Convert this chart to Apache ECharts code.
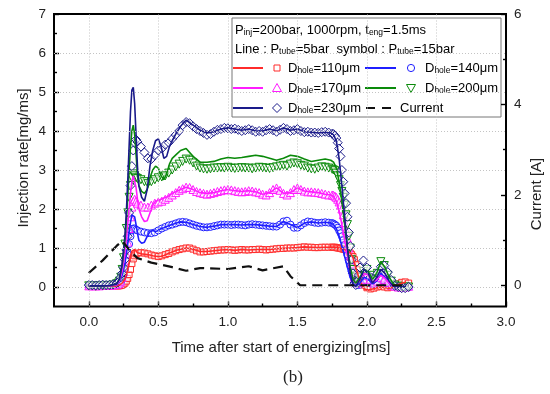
<!DOCTYPE html>
<html><head><meta charset="utf-8">
<script src="https://cdn.jsdelivr.net/npm/echarts@6/dist/echarts.min.js"></script>
<style>html,body{margin:0;padding:0;background:#fff}#c{width:550px;height:394px}</style>
</head><body><div id="c"></div><script>
// Time base of the P_tube=15bar symbol traces [ms]
const tS = [0,0.025,0.05,0.075,0.1,0.125,0.15,0.175,0.2,
  0.21,0.22,0.23,0.24,0.25,0.26,0.27,0.28,0.29,0.3,0.31,0.32,0.33,0.34,0.35,
  0.375,0.4,0.425,0.45,0.475,0.5,0.525,0.55,0.575,0.6,0.625,0.65,0.675,0.7,0.725,0.75,0.775,0.8,0.825,0.85,0.875,0.9,0.925,0.95,0.975,1.0,
  1.025,1.05,1.075,1.1,1.125,1.15,1.175,1.2,1.225,1.25,1.275,1.3,1.325,1.35,1.375,1.4,1.425,1.45,1.475,1.5,1.525,1.55,1.575,1.6,1.625,1.65,1.675,1.7,1.725,1.75,
  1.76,1.77,1.78,1.79,1.8,1.81,1.82,1.83,1.84,1.85,1.86,1.87,1.88,1.89,1.9,1.91,1.92,1.93,1.94,1.95,
  1.975,2.0,2.025,2.05,2.075,2.1,2.125,2.15,2.175,2.2,2.225,2.25,2.275,2.3];

// Injection rate [mg/ms], P_tube = 15bar (symbols)
const D110s = [0.02,0.02,0.02,0.02,0.02,0.02,0.03,0.03,0.03,
  0.03,0.03,0.04,0.05,0.07,0.1,0.15,0.22,0.32,0.45,0.6,0.72,0.8,0.85,0.87,
  0.88,0.87,0.85,0.82,0.8,0.78,0.8,0.83,0.86,0.9,
  0.93,0.96,0.98,1.0,1.0,0.97,0.93,0.9,0.9,0.91,
  0.92,0.93,0.94,0.95,0.95,0.96,0.95,0.94,0.95,0.96,
  0.95,0.95,0.96,0.96,0.97,0.96,0.95,0.96,0.97,0.98,
  0.99,0.99,1.0,1.0,1.0,1.01,1.02,1.03,1.02,1.02,
  1.01,1.01,1.02,1.02,1.02,1.02,
  1.02,1.02,1.01,1.0,1.0,0.99,0.98,0.97,0.96,0.95,0.93,0.9,0.87,0.83,0.78,0.7,0.58,0.45,0.3,0.18,
  0.05,-0.02,-0.05,-0.03,0.0,0.02,0.0,-0.02,0.0,0.05,0.08,0.12,0.13,0.1];
const D140s = [0.03,0.03,0.03,0.03,0.03,0.04,0.04,0.04,0.05,
  0.06,0.08,0.12,0.2,0.3,0.45,0.65,0.85,1.1,1.3,1.45,1.5,1.5,1.47,1.45,
  1.42,1.4,1.38,1.38,1.4,1.45,1.5,1.54,1.58,1.6,
  1.63,1.66,1.67,1.66,1.63,1.6,1.57,1.55,1.53,1.53,
  1.54,1.56,1.58,1.6,1.6,1.6,1.59,1.6,1.6,1.59,
  1.58,1.6,1.61,1.6,1.59,1.58,1.57,1.56,1.55,1.55,
  1.6,1.68,1.7,1.6,1.52,1.52,1.58,1.64,1.68,1.67,
  1.65,1.64,1.65,1.66,1.65,1.64,
  1.62,1.6,1.57,1.52,1.45,1.38,1.3,1.2,1.08,0.95,0.82,0.68,0.55,0.4,0.28,0.18,0.1,0.06,0.05,0.08,
  0.12,0.15,0.1,0.08,0.12,0.18,0.15,0.1,0.05,0.02,0.0,0.0,0.0,0.0];
const D170s = [0.03,0.03,0.03,0.03,0.04,0.04,0.04,0.05,0.07,
  0.08,0.1,0.15,0.25,0.4,0.6,0.85,1.15,1.5,1.8,2.05,2.2,2.25,2.2,2.15,
  2.1,2.05,2.05,2.1,2.15,2.18,2.2,2.25,2.3,2.36,
  2.42,2.48,2.52,2.56,2.55,2.5,2.45,2.42,2.4,2.38,
  2.4,2.42,2.45,2.47,2.49,2.5,2.49,2.47,2.45,2.44,
  2.45,2.47,2.46,2.44,2.42,2.38,2.36,2.42,2.5,2.54,
  2.48,2.4,2.36,2.42,2.5,2.54,2.5,2.46,2.44,2.44,
  2.43,2.42,2.4,2.38,2.36,2.36,
  2.35,2.33,2.3,2.25,2.18,2.1,2.0,1.85,1.65,1.45,1.25,1.0,0.8,0.6,0.4,0.25,0.15,0.1,0.12,0.15,
  0.2,0.3,0.2,0.1,0.15,0.25,0.2,0.12,0.05,0.02,0.0,0.0,0.0,0.02];
const D200s = [0.03,0.03,0.02,0.03,0.03,0.04,0.04,0.05,0.08,
  0.1,0.15,0.25,0.45,0.75,1.1,1.5,1.9,2.3,2.6,2.8,2.9,2.85,2.8,2.78,
  2.75,2.7,2.65,2.7,2.75,2.8,2.82,2.85,2.92,3.0,
  3.08,3.15,3.22,3.28,3.25,3.18,3.1,3.05,3.03,3.02,
  3.03,3.05,3.05,3.06,3.05,3.07,3.05,3.04,3.05,3.06,
  3.05,3.05,3.03,3.05,3.07,3.06,3.05,3.04,3.06,3.08,
  3.1,3.12,3.1,3.15,3.18,3.16,3.12,3.1,3.05,3.03,
  3.02,3.05,3.08,3.07,3.05,3.02,
  3.0,2.98,2.92,2.85,2.75,2.6,2.45,2.3,2.1,1.85,1.6,1.3,1.0,0.7,0.45,0.25,0.12,0.1,0.15,0.25,
  0.4,0.45,0.3,0.2,0.35,0.65,0.55,0.3,0.15,0.05,0.02,0.0,0.0,0.0];
const D230s = [0.05,0.05,0.04,0.05,0.06,0.05,0.06,0.07,0.1,
  0.12,0.15,0.25,0.35,0.5,0.7,0.95,1.3,1.9,2.6,3.1,3.5,3.7,3.78,3.72,
  3.6,3.45,3.3,3.28,3.38,3.5,3.55,3.65,3.7,3.8,
  3.9,4.0,4.15,4.23,4.2,4.12,4.05,4.0,3.95,3.9,
  3.92,3.98,4.03,4.05,4.08,4.07,4.05,4.06,4.03,4.0,
  4.02,4.05,4.02,3.98,4.0,3.98,4.02,4.05,4.02,3.98,
  4.03,4.08,4.05,4.0,4.02,4.05,4.0,3.97,3.98,3.96,
  3.96,3.95,3.97,3.98,3.96,3.93,
  3.92,3.88,3.82,3.7,3.55,3.35,3.0,2.7,2.4,2.15,1.8,1.4,1.05,0.7,0.35,0.1,0.05,0.15,0.3,0.5,
  0.68,0.5,0.25,0.2,0.35,0.52,0.55,0.38,0.18,0.03,0.0,-0.03,-0.03,0.0];

// Time base of the P_tube=5bar line traces [ms]
const tL = [0,0.05,0.1,0.15,0.2,0.22,0.24,0.26,
  0.27,0.28,0.29,0.3,0.31,0.32,0.33,0.34,0.35,0.36,
  0.38,0.4,0.42,0.44,0.46,0.48,0.5,0.52,0.54,0.56,0.58,0.6,
  0.63,0.66,0.7,
  0.75,0.8,0.85,0.9,0.95,1.0,1.05,1.1,1.15,1.2,1.25,1.3,1.35,1.4,1.45,1.5,1.55,1.6,1.65,1.7,
  1.74,1.76,1.78,1.8,1.82,1.84,1.86,1.88,1.9,1.92,
  1.95,1.98,2.01,2.04,2.07,2.1,2.13,2.16,2.19,2.22,2.25,2.28];

// Injection rate [mg/ms], P_tube = 5bar (lines)
const D110l = [0.02,0.02,0.02,0.02,0.03,0.05,0.1,0.2,
  0.3,0.45,0.62,0.8,0.92,0.97,0.96,0.92,0.88,0.86,
  0.85,0.84,0.83,0.82,0.8,0.79,0.78,0.79,0.81,0.84,0.87,0.9,
  0.94,0.97,1.0,
  0.97,0.91,0.91,0.93,0.95,0.96,0.94,0.96,0.95,0.96,0.96,0.96,0.98,0.99,1.0,1.01,1.03,1.02,1.01,1.02,
  1.02,1.02,1.01,1.0,0.98,0.96,0.93,0.88,0.75,0.5,
  0.15,-0.05,-0.08,-0.05,-0.02,0.0,-0.02,-0.03,0.0,0.05,0.1,0.12];
const D140l = [0.03,0.03,0.03,0.03,0.05,0.12,0.3,0.6,
  0.85,1.1,1.4,1.65,1.85,1.9,1.8,1.6,1.38,1.2,
  1.12,1.15,1.3,1.42,1.45,1.42,1.45,1.5,1.52,1.55,1.58,1.6,
  1.64,1.67,1.66,
  1.6,1.55,1.53,1.56,1.6,1.6,1.6,1.59,1.6,1.6,1.58,1.56,1.55,1.68,1.6,1.52,1.64,1.67,1.64,1.66,
  1.64,1.6,1.5,1.3,1.05,0.78,0.5,0.25,0.08,0.03,
  0.1,0.25,0.2,0.08,0.15,0.35,0.25,0.1,0.02,0.0,0.0,0.0];
const D170l = [0.03,0.03,0.03,0.03,0.06,0.15,0.4,0.85,
  1.2,1.6,2.0,2.4,2.7,2.85,2.8,2.55,2.25,2.0,
  1.8,1.68,1.7,1.9,2.1,2.2,2.22,2.25,2.28,2.3,2.35,2.4,
  2.45,2.5,2.56,
  2.5,2.42,2.4,2.42,2.47,2.5,2.47,2.45,2.47,2.44,2.38,2.42,2.54,2.4,2.42,2.54,2.46,2.44,2.42,2.38,
  2.36,2.32,2.2,1.95,1.6,1.2,0.8,0.45,0.2,0.1,
  0.2,0.35,0.3,0.12,0.18,0.3,0.22,0.1,0.03,0.0,0.0,0.0];
const D200l = [0.03,0.03,0.03,0.04,0.08,0.2,0.55,1.2,
  1.7,2.3,3.0,3.6,4.0,4.15,3.9,3.4,2.9,2.6,
  2.45,2.4,2.5,2.8,3.0,3.1,3.05,2.85,2.75,2.9,3.15,3.3,
  3.4,3.5,3.55,
  3.35,3.2,3.2,3.22,3.28,3.32,3.3,3.32,3.35,3.38,3.35,3.3,3.25,3.3,3.38,3.35,3.28,3.22,3.25,3.28,
  3.25,3.2,3.05,2.7,2.2,1.6,1.0,0.5,0.2,0.1,
  0.25,0.45,0.4,0.2,0.35,0.65,0.5,0.25,0.08,0.02,0.0,0.0];
const D230l = [0.03,0.03,0.03,0.04,0.08,0.2,0.6,1.3,
  1.9,2.7,3.6,4.5,5.05,5.12,4.7,3.9,3.1,2.6,
  2.3,2.2,2.5,3.1,3.5,3.75,3.8,3.6,3.3,3.35,3.6,3.75,
  3.95,4.12,4.28,
  4.15,4.02,3.95,3.98,4.05,4.08,4.05,4.02,4.05,4.0,4.0,4.05,4.0,4.08,4.02,4.05,3.98,3.97,3.95,3.97,
  3.95,3.9,3.75,3.3,2.6,1.8,1.0,0.35,0.05,0.02,
  0.2,0.45,0.35,0.1,0.25,0.45,0.35,0.15,0.02,0.0,0.0,0.02];

// Injector current [A]
const tC = [0,0.1,0.2,0.24,0.3,0.35,0.45,0.6,0.7,0.8,1.0,1.15,1.25,1.4,1.45,1.52,1.6,2.0,2.3];
const current = [0.27,0.55,0.87,0.98,0.75,0.6,0.5,0.4,0.32,0.38,0.36,0.42,0.33,0.42,0.2,0.0,0.0,0.0,0.0];

// Axis ticks and grid lines
const xTicks = [0,0.5,1,1.5,2,2.5,3];
const xMinor = [0.25,0.75,1.25,1.75,2.25,2.75];
const yTicks = [0,1,2,3,4,5,6,7];
const yMinor = [0.5,1.5,2.5,3.5,4.5,5.5,6.5];
const cTicks = [0,2,4,6];
const cMinor = [1,3,5];
const xGrid = [0,0.5,1,1.5,2,2.5];
const yGrid = [0,1,2,3,4,5,6];

const holeSizes = ['110','140','170','200','230'];
const colors = ['#ff2b2b','#1f1fff','#ff1cff','#0a8a0a','#1a1a8a'];

const FONT = '"Liberation Sans", Arial, sans-serif';
const zip = (t, v) => t.map((x, i) => [x, v[i]]);

const traces = [
  {line: D110l, sym: D110s, symbol: 'rect', size: 6, rot: 0},
  {line: D140l, sym: D140s, symbol: 'circle', size: 7, rot: 0},
  {line: D170l, sym: D170s, symbol: 'triangle', size: 8, rot: 0},
  {line: D200l, sym: D200s, symbol: 'triangle', size: 8, rot: 180},
  {line: D230l, sym: D230s, symbol: 'diamond', size: 9, rot: 0}
];

// Dotted grid drawn as mark lines on the data axes
const series = [{
  name: 'grid', type: 'line', data: [], silent: true, z: 1,
  markLine: {
    silent: true, symbol: 'none', animation: false, label: {show: false},
    lineStyle: {color: '#c4c4c4', type: [1, 2], width: 1},
    data: xGrid.map(v => ({xAxis: v})).concat(yGrid.map(v => ({yAxis: v})))
  }
}];
traces.forEach((tr, i) => {
  series.push({
    name: 'D' + holeSizes[i] + ' 5bar', type: 'line', data: zip(tL, tr.line),
    showSymbol: false, silent: true,
    lineStyle: {color: colors[i], width: 1.6}
  });
  series.push({
    name: 'D' + holeSizes[i] + ' 15bar', type: 'scatter', data: zip(tS, tr.sym),
    symbol: tr.symbol, symbolSize: tr.size, symbolRotate: tr.rot, silent: true,
    itemStyle: {color: 'rgba(255,255,255,0.55)', borderColor: colors[i], borderWidth: 1, opacity: 1}
  });
});
series.push({
  name: 'Current', type: 'line', yAxisIndex: 1, data: zip(tC, current),
  showSymbol: false, silent: true,
  lineStyle: {color: '#111', width: 2.2, type: [10, 6]}
});

const tickStyle = {color: '#000', width: 1.4};
const labelStyle = {color: '#222', fontSize: 13.5, fontFamily: FONT};
const noLine = {show: false, onZero: false};

// Legend drawn as a framed block of rich text, line samples and symbol samples
const rich = {
  n: {fontSize: 13, fontFamily: FONT, color: '#111', lineHeight: 15},
  s: {fontSize: 8.5, fontFamily: FONT, color: '#111', lineHeight: 15, verticalAlign: 'bottom', padding: [7, 0, 0, 0]}
};
function txt(x, y, text) {
  return {type: 'text', x: x, y: y, style: {text: text, rich: rich, verticalAlign: 'middle', align: 'left'}};
}
function seg(x1, x2, y, color, dash) {
  return {type: 'line', shape: {x1: x1, y1: y, x2: x2, y2: y},
    style: {stroke: color, lineWidth: dash ? 2.2 : 2, lineDash: dash || null}};
}
function mark(kind, cx, cy, color) {
  const st = {fill: '#fff', stroke: color, lineWidth: 1};
  if (kind === 'rect') return {type: 'rect', shape: {x: cx - 3, y: cy - 3, width: 6, height: 6}, style: st};
  if (kind === 'circle') return {type: 'circle', shape: {cx: cx, cy: cy, r: 3.6}, style: st};
  if (kind === 'up') return {type: 'polygon', shape: {points: [[cx, cy - 4.5], [cx + 4.5, cy + 3.5], [cx - 4.5, cy + 3.5]]}, style: st};
  if (kind === 'down') return {type: 'polygon', shape: {points: [[cx, cy + 4.5], [cx + 4.5, cy - 3.5], [cx - 4.5, cy - 3.5]]}, style: st};
  return {type: 'polygon', shape: {points: [[cx, cy - 4.5], [cx + 4.5, cy], [cx, cy + 4.5], [cx - 4.5, cy]]}, style: st};
}
const dLabel = s => '{n|D}{s|hole}{n|=' + s + 'μm}';
const legendEls = [
  {type: 'rect', shape: {x: 232, y: 18, width: 269, height: 99}, style: {fill: '#fff', stroke: '#777', lineWidth: 1}},
  txt(235, 30, '{n|P}{s|inj}{n|=200bar, 1000rpm, t}{s|eng}{n|=1.5ms}'),
  txt(235, 49, '{n|Line : P}{s|tube}{n|=5bar  symbol : P}{s|tube}{n|=15bar}'),
  seg(233, 263, 68, colors[0]), mark('rect', 277, 68, colors[0]), txt(288, 68, dLabel(holeSizes[0])),
  seg(365, 396, 68, colors[1]), mark('circle', 411, 68, colors[1]), txt(425, 68, dLabel(holeSizes[1])),
  seg(233, 263, 88, colors[2]), mark('up', 277, 88, colors[2]), txt(288, 88, dLabel(holeSizes[2])),
  seg(365, 396, 88, colors[3]), mark('down', 411, 88, colors[3]), txt(425, 88, dLabel(holeSizes[3])),
  seg(233, 263, 108, colors[4]), mark('diamond', 277, 108, colors[4]), txt(288, 108, dLabel(holeSizes[4])),
  seg(366, 394, 108, '#111', [9, 7]), txt(400, 108, '{n|Current}')
];

const axisTitle = (x, y, text, rot, extra) => ({
  type: 'text', x: x, y: y, rotation: rot,
  style: Object.assign({text: text, fill: '#222', font: '15px ' + FONT, align: 'center', verticalAlign: 'middle'}, extra || {})
});

const option = {
  backgroundColor: '#fff',
  animation: false,
  grid: {left: 54, right: 44, top: 14, bottom: 87.5, show: true, borderColor: '#000', borderWidth: 2, backgroundColor: 'transparent'},
  xAxis: [
    {type: 'value', min: -0.25, max: 3, position: 'bottom',
      axisLine: noLine,
      axisTick: {show: true, inside: true, length: 5, customValues: xTicks, lineStyle: tickStyle},
      axisLabel: Object.assign({customValues: xTicks, formatter: v => v.toFixed(1), margin: 9}, labelStyle),
      splitLine: {show: false}},
    {type: 'value', min: -0.25, max: 3, position: 'bottom',
      axisLine: noLine,
      axisTick: {show: true, inside: true, length: 3, customValues: xMinor, lineStyle: tickStyle},
      axisLabel: {show: false}, splitLine: {show: false}}
  ],
  yAxis: [
    {type: 'value', min: -0.5, max: 7, position: 'left',
      axisLine: noLine,
      axisTick: {show: true, inside: true, length: 5, customValues: yTicks, lineStyle: tickStyle},
      axisLabel: Object.assign({customValues: yTicks, margin: 8}, labelStyle),
      splitLine: {show: false}},
    {type: 'value', min: -0.47, max: 6, position: 'right',
      axisLine: noLine,
      axisTick: {show: true, inside: true, length: 5, customValues: cTicks, lineStyle: tickStyle},
      axisLabel: Object.assign({customValues: cTicks, margin: 8}, labelStyle),
      splitLine: {show: false}},
    {type: 'value', min: -0.5, max: 7, position: 'left',
      axisLine: noLine,
      axisTick: {show: true, inside: true, length: 3, customValues: yMinor, lineStyle: tickStyle},
      axisLabel: {show: false}, splitLine: {show: false}},
    {type: 'value', min: -0.47, max: 6, position: 'right',
      axisLine: noLine,
      axisTick: {show: true, inside: true, length: 3, customValues: cMinor, lineStyle: tickStyle},
      axisLabel: {show: false}, splitLine: {show: false}}
  ],
  series: series,
  graphic: [
    {type: 'group', z: 100, children: legendEls},
    axisTitle(24, 158, 'Injection rate[mg/ms]', Math.PI / 2),
    axisTitle(537, 194, 'Current [A]', Math.PI / 2),
    axisTitle(281, 348, 'Time after start of energizing[ms]', 0),
    axisTitle(293, 378, '(b)', 0, {font: '17px "Liberation Serif", "Times New Roman", serif'})
  ]
};

const chart = echarts.init(document.getElementById('c'), null, {renderer: 'canvas'});
chart.setOption(option);
</script></body></html>
